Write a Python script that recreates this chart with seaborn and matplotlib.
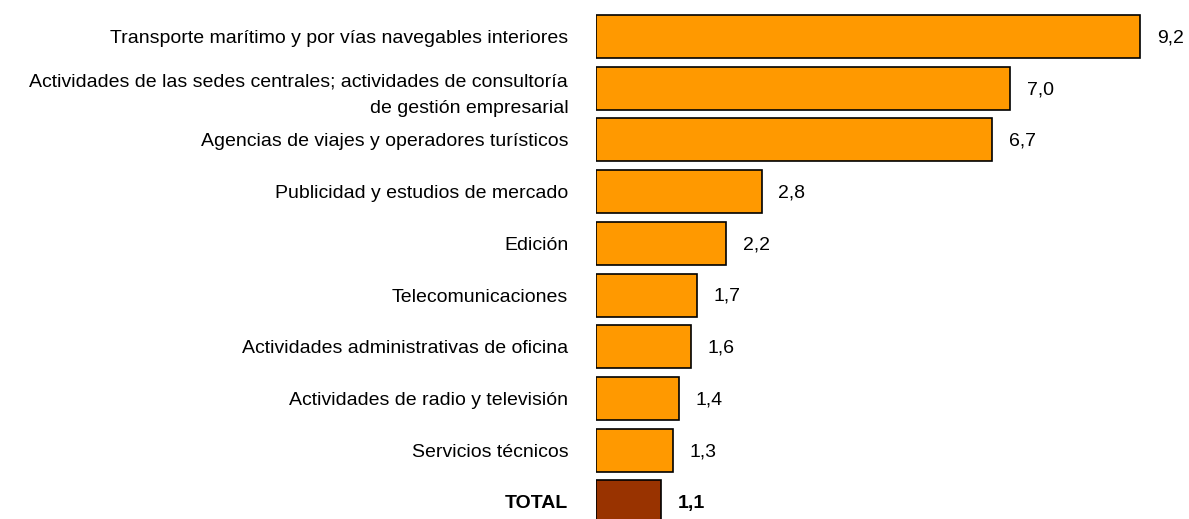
import matplotlib
matplotlib.use("Agg")
import matplotlib.pyplot as plt
import seaborn as sns
import pandas as pd

sectores = [
    "Transporte marítimo y por vías navegables interiores",
    "Actividades de las sedes centrales; actividades de consultoría\nde gestión empresarial",
    "Agencias de viajes y operadores turísticos",
    "Publicidad y estudios de mercado",
    "Edición",
    "Telecomunicaciones",
    "Actividades administrativas de oficina",
    "Actividades de radio y televisión",
    "Servicios técnicos",
    "TOTAL",
]
valores = [9.2, 7.0, 6.7, 2.8, 2.2, 1.7, 1.6, 1.4, 1.3, 1.1]
colores = ["#FF9900"] * 9 + ["#993300"]

sns.set_theme(style="white")
plt.rcParams["font.family"] = ["Liberation Sans", "DejaVu Sans"]
font_size = 14

df = pd.DataFrame({"Sector": sectores, "Valor": valores})

fig = plt.figure(figsize=(11.89, 5.19), dpi=100)
ax = fig.add_axes([596 / 1189, 0.0, 1 - 596 / 1189, 1.0])
sns.barplot(
    data=df,
    x="Valor",
    y="Sector",
    hue="Sector",
    palette=colores,
    orient="h",
    width=0.83,
    edgecolor="black",
    linewidth=1.2,
    legend=False,
    saturation=1,
    ax=ax,
)

ax.set_xlim(0, (1189 - 596) / 59.13)
ax.set_ylim(9.33, -0.706)
ax.set_xlabel("")
ax.set_ylabel("")
ax.set_xticks([])
sns.despine(ax=ax, left=True, bottom=True)
ax.tick_params(axis="y", length=0, pad=20, labelsize=font_size, colors="black")

for lab in ax.get_yticklabels():
    lab.set_linespacing(1.75)
    if lab.get_text() == "TOTAL":
        lab.set_fontweight("bold")

for i, v in enumerate(valores):
    ax.annotate(
        f"{v:.1f}".replace(".", ","),
        xy=(v, i),
        xytext=(12, -1),
        textcoords="offset points",
        va="center",
        ha="left",
        fontsize=font_size,
        fontweight="bold" if sectores[i] == "TOTAL" else "normal",
        color="black",
    )

fig.savefig("out.png", dpi=100)
